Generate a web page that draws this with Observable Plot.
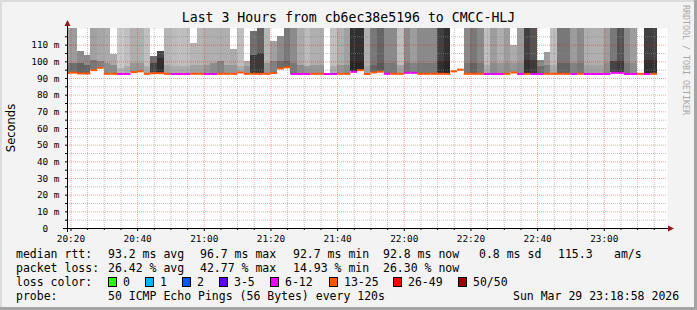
<!DOCTYPE html>
<html><head><meta charset="utf-8">
<script src="https://cdn.jsdelivr.net/npm/d3@7"></script>
<script src="https://cdn.jsdelivr.net/npm/@observablehq/plot@0.6"></script>
<style>
html,body{margin:0;padding:0;background:#f3f3f3;}
#wrap{position:relative;width:697px;height:310px;background:#f3f3f3;overflow:hidden;font-family:"DejaVu Sans Mono",monospace;color:#000;}
#wrap svg{position:absolute;left:0;top:0;}
.t{position:absolute;white-space:pre;font-size:11.5px;line-height:12px;font-family:"DejaVu Sans Mono",monospace;}
.sq{position:absolute;width:9px;height:10px;box-sizing:border-box;border:1px solid #000;}
.edge{position:absolute;}
</style></head>
<body><div id="wrap"></div>
<script>
// ---------------- data ----------------
const titleText = "Last 3 Hours from cb6ec38e5196 to CMCC-HLJ";
const yLabel = "Seconds";
const watermark = "RRDTOOL / TOBI OETIKER";
const firstColumn = "2026-03-29T20:18:00Z";   // start of first (partial) 120 s column
const viewStart = "2026-03-29T20:18:58Z";
const viewEnd = "2026-03-29T23:18:58Z";
const stepSeconds = 120;
const xTickLabels = ["20:20","20:40","21:00","21:20","21:40","22:00","22:20","22:40","23:00"];
const yTicks = [0,10,20,30,40,50,60,70,80,90,100,110];

// median rtt per column (ms)
const medianRtt = [93.3,93.5,93.0,93.0,95.0,96.4,92.8,92.8,92.7,92.7,93.8,94.3,92.8,93.2,93.2,92.8,92.7,92.7,92.7,92.8,
92.8,92.7,92.7,92.8,92.8,92.8,93.6,92.8,92.8,92.8,92.8,93.3,96.0,96.7,92.7,92.7,92.7,92.8,92.8,92.7,
92.7,92.8,92.8,94.0,95.0,92.7,93.6,94.1,92.8,92.8,92.8,93.4,93.4,92.8,92.8,92.8,92.8,92.8,94.3,95.3,
92.8,92.8,92.8,92.7,92.7,92.7,92.8,93.6,92.7,92.8,92.7,92.7,92.8,92.8,92.8,92.8,92.7,92.8,92.7,92.7,
92.7,92.7,93.4,93.4,92.7,92.7,92.8,92.7,92.8];
// loss bin per column
const lossBin = ["13-25","13-25","13-25","13-25","13-25","13-25","13-25","13-25","6-12","6-12","13-25","13-25","13-25","13-25","13-25","13-25","6-12","6-12","6-12","13-25",
"13-25","6-12","6-12","13-25","13-25","13-25","13-25","13-25","13-25","13-25","13-25","13-25","13-25","13-25","6-12","6-12","6-12","13-25","13-25","6-12",
"6-12","13-25","13-25","6-12","13-25","13-25","13-25","13-25","6-12","13-25","13-25","6-12","6-12","13-25","13-25","13-25","13-25","13-25","13-25","13-25",
"13-25","13-25","13-25","6-12","6-12","6-12","13-25","13-25","6-12","13-25","6-12","6-12","13-25","13-25","13-25","13-25","6-12","13-25","6-12","6-12",
"6-12","6-12","6-12","6-12","6-12","6-12","13-25","6-12","13-25"];
// highest ping per column (ms, 120 = off the top), null = no smoke
const smokeTop = [120,120,106,104,120,120,120,104.6,120,120,120,120,120,103.5,106.4,120,120,120,120,111,
120,120,120,120,120,107.6,120,100,118,120,120,112,115,120,120,120,120,120,120,null,
120,120,120,120,120,120,120,120,120,120,120,120,120,120,120,120,120,120,null,null,
120,120,120,120,120,120,120,110,120,120,120,101,105.6,120,120,120,120,120,120,120,
120,120,120,120,120,120,null,120,120];
// smoke darkness (0 light .. 10 dark) of the outer band
const smokeDensity = [3.5,3.7,4.5,4.5,3.5,3.2,3.0,3.0,1.5,2.0,2.8,2.8,2.0,6,8,2.5,2.2,2.0,2.0,2.5,
2.5,2.8,2.8,2.8,2.8,3.0,2.0,3,6,6.5,2.5,3.5,4.5,5.5,4.5,3,2.2,2.8,2.8,0,
2.0,2.8,3.5,9,9,2.8,5.5,6.4,4.6,4.6,2.0,4.6,3.7,4.6,4.6,4.6,8.2,9.0,0,0,
4.6,5.5,4.6,2.0,3.7,2.8,3.7,3.0,3.7,8.2,7.3,4.6,3.7,2.0,5.5,5.5,3.7,4.6,2.8,2.8,
2.8,3.7,5.5,7.3,4.6,3.7,0,8.2,8.2];
// top of the denser inner band (ms) and its darkness
const coreTop = [99,99,99,98,101,100,99,98,96,97,99,99,97,99,102,98,97,97,97,98,
98,98,99,100,98,98,97,97,104,105,99,100,100,100,99,98,97,98,98,null,
97,98,98,100,100,97,98,99,99,99,98,99,99,99,99,99,100,100,null,null,
99,99,99,98,99,99,99,99,99,101,101,97,98,98,99,99,99,99,98,98,
98,99,100,100,99,99,null,101,101];
const coreDensity = [5.5,6,6.5,6.5,5.5,5,4.5,4.5,2.5,3,4,4,3,8,9,3.5,3,3,3,3.5,
3.5,4,4.5,5,4,4,3,4,8.5,8.5,4,5,6,6.5,5.5,4.5,4,4,4,0,
3,4,4.5,9.5,9.5,3.5,6.5,7,5.5,5.5,3.5,5.5,5,5.5,5.5,5.5,9,9.5,0,0,
5.5,6.5,5.5,3,4.5,4,4.5,4,4.5,9,8.5,6,5,3,6.5,6.5,5,5.5,3.5,3.5,
3.5,4.5,8,8.5,5.5,4.5,0,9,9];

const lossLabels = ["0","1","2","3-5","6-12","13-25","26-49","50/50"];
const lossColors = ["#26ff00","#00b8ff","#0059ff","#5e00ff","#ee00ff","#ff5500","#ff0000","#a00000"];

const legendRows = [
  [["median rtt:",16],["93.2 ms avg",108],["96.7 ms max",200],["92.7 ms min",293],["92.8 ms now",383],["0.8 ms sd",479],["115.3",558],["am/s",614]],
  [["packet loss:",16],["26.42 % avg",108],["42.77 % max",200],["14.93 % min",293],["26.30 % now",383]],
  [["loss color:",16]],
  [["probe:",16],["50 ICMP Echo Pings (56 Bytes) every 120s",108],["Sun Mar 29 23:18:58 2026",513]]
];
const lossSquareX = [108,145,182,219,270,329,393,458];

// ---------------- build ----------------
const t0 = new Date(firstColumn).getTime();
const step = stepSeconds * 1000;
const colorOf = Object.fromEntries(lossLabels.map((l, i) => [l, lossColors[i]]));
const cols = medianRtt.map((m, i) => ({
  x1: new Date(t0 + i * step), x2: new Date(t0 + (i + 1) * step),
  med: m, loss: lossBin[i], top: smokeTop[i], dens: smokeDensity[i],
  core: coreTop[i], coreDens: coreDensity[i]
}));
const smoke = cols.filter(d => d.top != null);
const day = "2026-03-29T";
const xTicks = xTickLabels.map(s => new Date(day + s + ":00Z"));
const xMinor = d3.utcMinute.every(5).range(new Date(viewStart), new Date(viewEnd)).filter(d => d.getUTCMinutes() % 20 !== 0);
const yMinor = d3.range(5, 120, 10);
const start = new Date(viewStart), end = new Date(viewEnd);

const plot = Plot.plot({
  width: 697, height: 245,
  marginLeft: 67, marginRight: 30, marginTop: 28, marginBottom: 17,
  style: {background: "transparent", fontFamily: "DejaVu Sans Mono", fontSize: "9.4px", color: "#000", overflow: "visible"},
  x: {type: "utc", domain: [start, end]},
  y: {domain: [0, 120]},
  color: {type: "linear", domain: [0, 10], range: ["#e8e8e8", "#1c1c1c"]},
  marks: [
    Plot.frame({fill: "white", stroke: "none"}),
    Plot.rect(smoke, {x1: "x1", x2: "x2", y1: "med", y2: "top", fill: "dens", clip: true, shapeRendering: "crispEdges"}),
    Plot.rect(smoke, {x1: "x1", x2: "x2", y1: "med", y2: "core", fill: "coreDens", clip: true, shapeRendering: "crispEdges"}),
    Plot.ruleX(xMinor, {stroke: "#888", strokeOpacity: 0.55, strokeDasharray: "1,1"}),
    Plot.ruleY(yMinor, {stroke: "#888", strokeOpacity: 0.55, strokeDasharray: "1,1"}),
    Plot.ruleX(xTicks, {stroke: "#ff0000", strokeOpacity: 0.38, strokeDasharray: "1,1"}),
    Plot.ruleY(yTicks.filter(v => v > 0), {stroke: "#ff0000", strokeOpacity: 0.38, strokeDasharray: "1,1"}),
    Plot.ruleY(cols, {x1: "x1", x2: "x2", y: "med", stroke: d => colorOf[d.loss], strokeWidth: 2, clip: true}),
    Plot.axisX(xMinor, {tickSize: 2, tickFormat: () => "", label: null}),
    Plot.axisX(xTicks, {tickSize: 3, tickPadding: 4, tickFormat: d3.utcFormat("%H:%M"), label: null, fontFamily: "DejaVu Sans Mono"}),
    Plot.axisY(yMinor, {tickSize: 2, tickFormat: () => "", label: null}),
    Plot.axisY(yTicks, {tickSize: 2, tickPadding: 6, tickFormat: d => d === 0 ? "0\u00a0\u00a0" : d + " m", label: null, fontFamily: "DejaVu Sans Mono"})
  ]
});

const wrap = document.getElementById("wrap");
wrap.appendChild(plot);

// rrdtool style axis lines with arrows
const sx = plot.scale("x"), sy = plot.scale("y");
const svg = d3.select(plot);
const xL = sx.apply(start), xR = sx.apply(end), y0 = sy.apply(0), yT = sy.apply(120);
const g = svg.append("g").attr("shape-rendering", "crispEdges");
g.append("line").attr("x1", xL - 4).attr("x2", xR + 1).attr("y1", y0 + 0.5).attr("y2", y0 + 0.5).attr("stroke", "#000");
g.append("line").attr("x1", xL + 0.5).attr("x2", xL + 0.5).attr("y1", y0 + 4).attr("y2", yT - 3).attr("stroke", "#000");
svg.append("path").attr("d", `M${xL - 2.5},${yT - 2}L${xL + 3.5},${yT - 2}L${xL + 0.5},${yT - 8}Z`).attr("fill", "#8b1a1a");
svg.append("path").attr("d", `M${xR + 1},${y0 - 2.5}L${xR + 1},${y0 + 3.5}L${xR + 7},${y0 + 0.5}Z`).attr("fill", "#8b1a1a");

function addText(txt, x, y, cls, extra) {
  const d = document.createElement("div");
  d.className = cls || "t";
  d.textContent = txt;
  d.style.left = x + "px"; d.style.top = y + "px";
  if (extra) Object.assign(d.style, extra);
  wrap.appendChild(d);
  return d;
}
// title
addText(titleText, 0, 11, "t", {width: "697px", textAlign: "center", fontSize: "13.2px", lineHeight: "14px"});
// y label
addText(yLabel, 11, 128, "t", {fontFamily: "DejaVu Sans", fontSize: "11.5px", transform: "translate(-50%,-50%) rotate(-90deg)"});
// watermark
addText(watermark, 690, 5, "t", {fontSize: "8.3px", lineHeight: "9px", color: "#a8a8a8", transformOrigin: "0 0", transform: "rotate(90deg)"});
// legend
const rowY = [248, 262, 276, 290];
legendRows.forEach((row, r) => row.forEach(([txt, x]) => addText(txt, x, rowY[r])));
lossLabels.forEach((l, i) => {
  const s = document.createElement("div");
  s.className = "sq";
  s.style.left = lossSquareX[i] + "px"; s.style.top = (rowY[2] + 1) + "px";
  s.style.background = lossColors[i];
  wrap.appendChild(s);
  addText(l, lossSquareX[i] + 15, rowY[2]);
});
// frame edges
[["0px","0px","697px","2px","#dcdcdc"],["0px","0px","2px","310px","#dcdcdc"],
 ["694px","0px","3px","310px","#a4a4a4"],["0px","307px","697px","3px","#a4a4a4"]].forEach(([l,t,w,h,c]) => {
  const e = document.createElement("div"); e.className = "edge";
  Object.assign(e.style, {left: l, top: t, width: w, height: h, background: c});
  wrap.appendChild(e);
});
</script></body></html>
